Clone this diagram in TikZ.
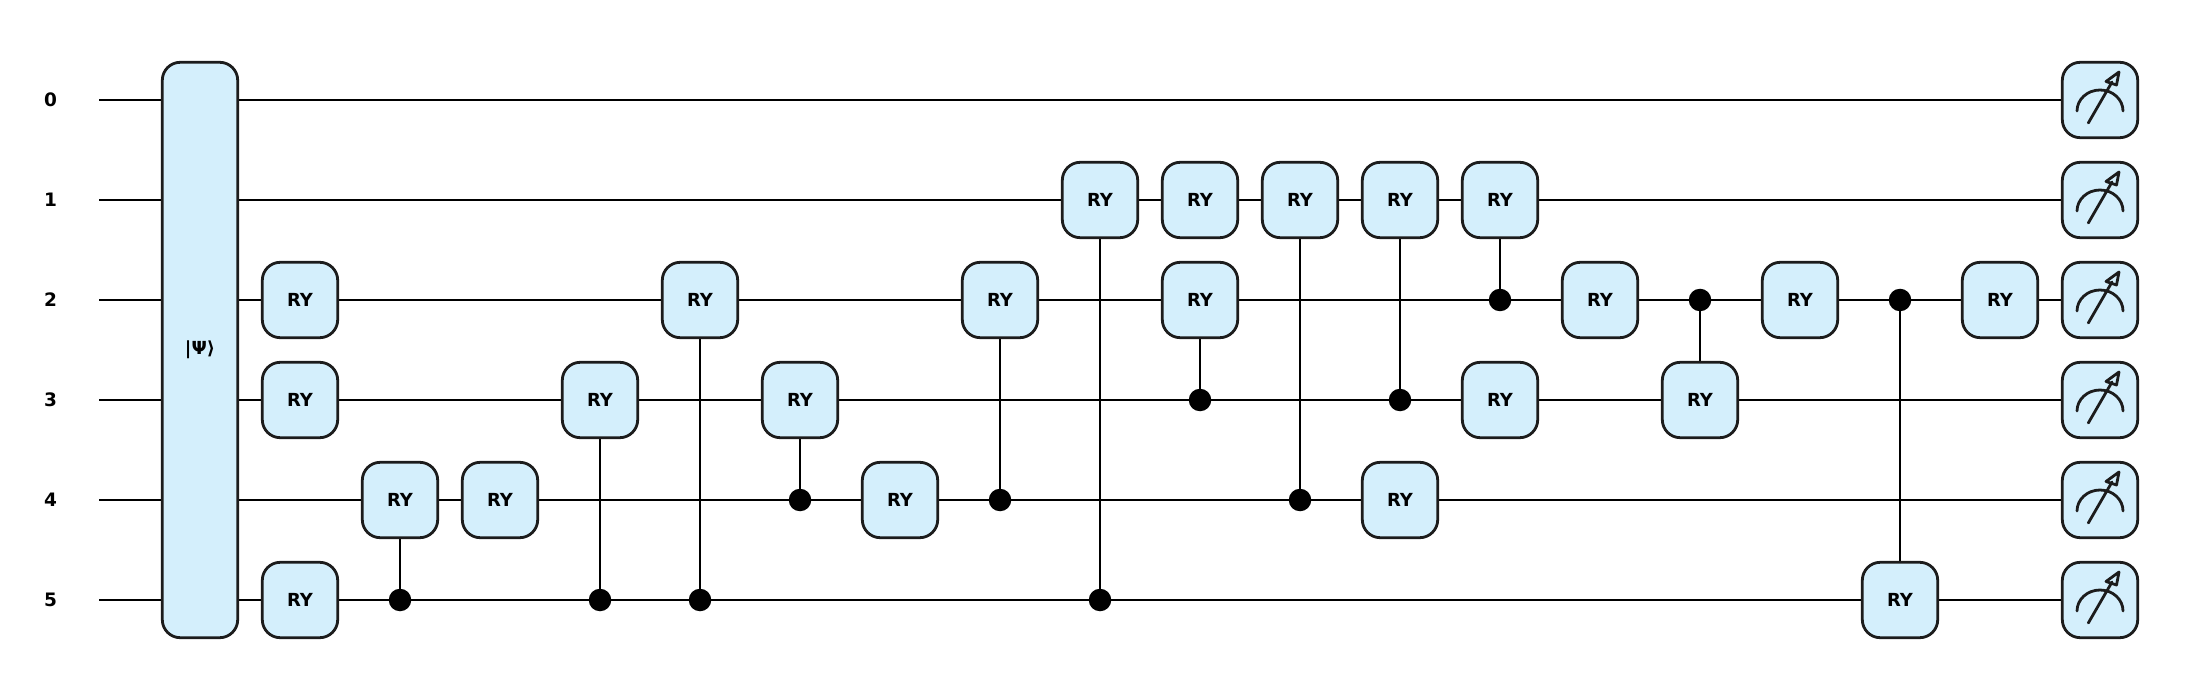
\documentclass[tikz,border=0pt]{standalone}
\usepackage{fontspec}
\setmainfont{DejaVu Sans}
\usetikzlibrary{backgrounds}
\definecolor{gatefill}{HTML}{D4EFFC}
\definecolor{gateline}{HTML}{1C1C1C}
\tikzset{
  x=1pt,y=-1pt,
  gatebox/.style={draw=gateline,fill=gatefill,line width=2.8pt,rounded corners=18pt,minimum width=75.4pt,minimum height=75.4pt,inner sep=0pt,font=\bfseries\fontsize{18}{20}\selectfont},
  statebox/.style={gatebox,minimum height=575.4pt},
  ctrldot/.style={circle,fill=black,inner sep=0pt,minimum size=22.5pt},
  wirelabel/.style={font=\bfseries\fontsize{18.5}{20}\selectfont,inner sep=0pt},
  wire/.style={draw=black,line width=2pt},
  icon/.style={draw=gateline,line width=2.8pt,line cap=round},
}
\newcommand{\measicon}[1]{%
  \draw[icon] ([shift={(-23,11)}]#1.center) arc[start angle=180,end angle=360,x radius=23,y radius=21];
  \draw[icon] ([shift={(-11.7,23)}]#1.center) -- ([shift={(12,-18)}]#1.center);
  \draw[icon,line join=round] ([shift={(19,-28)}]#1.center) -- ([shift={(6,-18.5)}]#1.center) -- ([shift={(16.5,-15)}]#1.center) -- cycle;
}
\begin{document}
\begin{tikzpicture}
\useasboundingbox (0,0) rectangle (2200,700);
% wire labels and free wire ends
\foreach \q/\y in {0/100,1/200,2/300,3/400,4/500,5/600}{
  \node[wirelabel] (label\q) at (50.5,\y) {\q};
  \coordinate (start\q) at (99,\y);
  \node[gatebox] (meas\q) at (2100,\y) {};
  \measicon{meas\q}
}
% state preparation
\node[statebox] (state) at (200,350) {\raisebox{-1.5pt}{|Ψ⟩}};
% gates
\foreach \n/\x/\y in {
  a/300/300,b/300/400,c/300/600,d/400/500,e/500/500,f/600/400,g/700/300,h/800/400,
  i/900/500,j/1000/300,k/1100/200,l/1200/200,m/1200/300,n/1300/200,o/1400/200,p/1400/500,
  q/1500/200,r/1500/400,s/1600/300,t/1700/400,u/1800/300,v/1900/600,w/2000/300}{
  \node[gatebox] (\n) at (\x,\y) {RY};
}
% controls
\foreach \n/\x/\y in {
  cd/400/600,cf/600/600,cg/700/600,ch/800/500,cj/1000/500,ck/1100/600,cm/1200/400,
  cn/1300/500,co/1400/400,cq/1500/300,ct/1700/300,cv/1900/300}{
  \node[ctrldot] (\n) at (\x,\y) {};
}
\begin{scope}[on background layer]
  \foreach \q in {0,...,5}{\draw[wire] (start\q) -- (meas\q.center);}
  \foreach \g in {d,f,g,h,j,k,m,n,o,q,t,v}{\draw[wire] (\g.center) -- (c\g.center);}
\end{scope}
\end{tikzpicture}
\end{document}
